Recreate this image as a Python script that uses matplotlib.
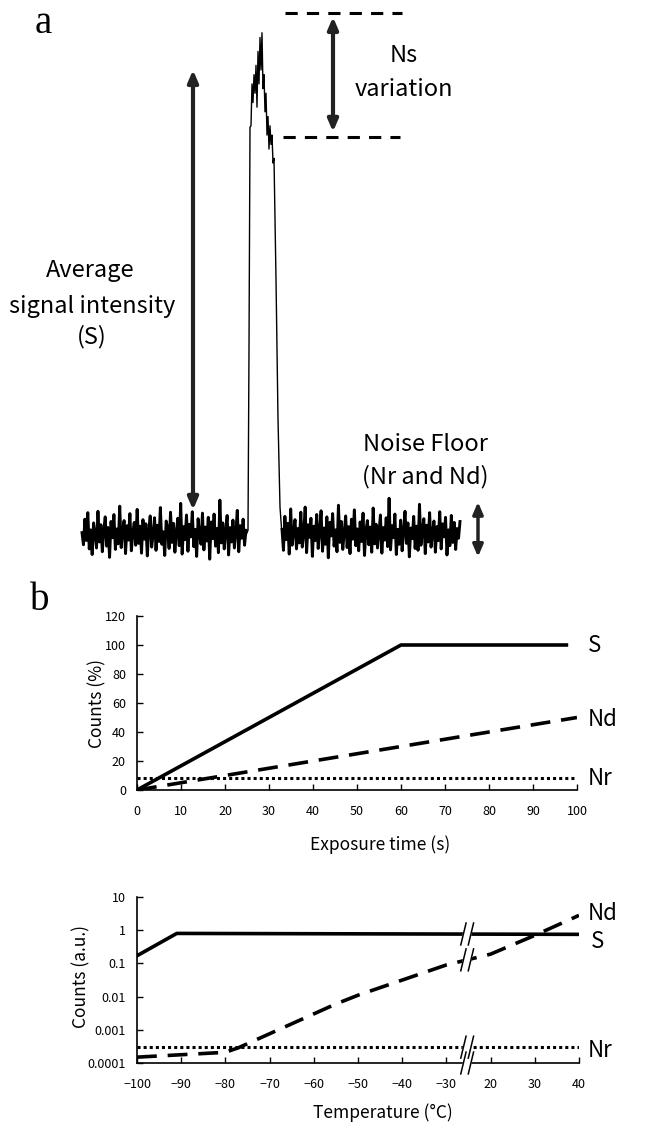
import matplotlib
matplotlib.use('Agg')
import matplotlib.pyplot as plt
import numpy as np

plt.rcParams['font.family'] = ['Noto Sans CJK JP', 'DejaVu Sans']

# ---- panel a: detector trace (intensity, baseline = 0, average signal = 100)
noise_left = [0.5, -2.1, 3.4, -1.2, 4.8, -3.0, 1.1, -4.2, 2.6, 0.3, -2.8, 5.1, -1.5, 2.2, -3.6, 0.9,
              3.9, -2.4, 1.6, -4.8, 2.9, -0.6, 4.4, -3.1, 1.3, -1.9, 6.2, -2.7, 0.8, 3.1, -4.0, 2.0,
              -1.1, 4.6, -3.4, 0.4, 2.7, -2.2, 5.5, -1.8, 1.9, -3.9, 3.3, -0.9, 2.4, -4.5, 1.0, 4.1,
              -2.6, 0.2, 3.7, -3.3, 2.1, -1.4, 5.9, -2.0, 0.7, -4.4, 3.0, 1.5, -2.9, 4.9, -1.6, 2.5,
              -3.7, 0.6, 3.6, -2.3, 6.8, -4.1, 1.8, -1.0, 4.3, -3.5, 2.3, -0.4, 5.0, -2.5, 1.2, -4.6,
              3.5, 0.1, -2.0, 4.7, -3.2, 1.7, -1.3, 3.8, -5.2, 2.8, -0.8, 4.5, -2.4, 1.4, -3.8, 7.5,
              -1.7, 2.6, -3.0, 0.9, 4.2, -4.3, 1.6, -1.5, 3.2, -2.8, 0.5, 5.3, -3.6, 2.0, -0.7, 3.4,
              -2.2, 1.0]
noise_right = [1.2, -3.3, 4.0, -1.0, 2.5, -4.1, 5.6, -2.2, 0.7, 3.3, -3.0, 1.4, -1.7, 4.9, -2.6, 0.3,
               6.0, -3.8, 2.2, -0.5, 3.6, -4.6, 1.9, -1.2, 4.4, -2.9, 0.8, 5.2, -3.5, 1.5, -2.0, 3.9,
               -4.9, 2.7, -0.2, 4.6, -2.4, 1.1, -3.6, 6.4, -1.6, 2.9, -3.1, 0.6, 4.1, -2.7, 1.8, -4.0,
               3.4, -0.9, 5.4, -2.3, 1.3, -3.4, 2.8, -1.4, 4.7, -4.4, 0.9, 3.1, -2.1, 1.7, -3.7, 5.8,
               -1.9, 2.3, -2.8, 0.4, 4.3, -3.9, 1.6, -1.1, 3.7, -2.5, 7.9, -3.2, 2.0, -0.6, 4.5, -4.2,
               1.2, -2.0, 3.2, -3.4, 0.7, 5.1, -1.8, 2.6, -4.7, 1.5, -0.8, 4.0, -2.9, 1.9, -3.3, 6.6,
               -2.2, 0.9, 3.5, -4.0, 2.1, -1.5, 4.8, -2.6, 0.5, 3.0, -3.7, 1.8, -1.2, 5.0, -3.0, 2.4,
               -0.4, 3.8, -4.3, 1.1, -2.3, 4.2, -1.6, 2.7, -3.1, 1.4, -0.7, 2.9]
peak_x = [246, 248, 249, 250, 251, 252, 253, 254, 255, 256, 257, 258, 259, 260, 261, 262, 263, 264,
          265, 266, 267, 268, 269, 270, 271, 272, 273, 274, 276, 278, 280, 282]
peak_y = [0, 1, 40, 87.7, 88, 97, 93, 99, 95, 101, 92, 104, 97, 107, 100, 108, 96, 99,
          91, 95, 86, 90, 83, 88, 84, 86, 80, 81, 55, 25, 6, 0]
signal_mean = 100
ns_top, ns_bottom = 112.3, 85.6

# ---- panel b (top): counts vs exposure time
exp_S, cnt_S = [0, 60, 98], [0, 100, 100]
exp_Nd, cnt_Nd = [0, 100], [0, 50]
exp_Nr, cnt_Nr = [0, 100], [8, 8]

# ---- panel b (bottom): counts vs temperature (log), axis broken between -30 and 20
temp_S, tcnt_S = [-100, -91, 40], [0.17, 0.8, 0.75]
temp_Nd = [-100, -80, -77, -55, -50, -30, 20, 30, 40]
tcnt_Nd = [1.5e-4, 2.1e-4, 2.9e-4, 6e-3, 1.1e-2, 9e-2, 0.19, 0.7, 2.8]
temp_Nr, tcnt_Nr = [-100, 40], [3e-4, 3e-4]
temp_ticks = [-100, -90, -80, -70, -60, -50, -40, -30, 20, 30, 40]
count_ticks = [1e-4, 1e-3, 1e-2, 1e-1, 1, 10]
count_labels = ['0.0001', '0.001', '0.01', '0.1', '1', '10']


def tpos(t):
    t = np.asarray(t, dtype=float)
    return np.where(t <= -30, t, t - 40)


fig = plt.figure(figsize=(6.5, 11.22), dpi=100)

# panel a
ax = fig.add_axes([0, 1 - 580 / 1122, 1, 580 / 1122])
ax.set_xlim(0, 650)
ax.set_ylim(-9.68, 115.05)
ax.axis('off')
ax.plot(np.linspace(82, 246, len(noise_left)), noise_left, color='black', lw=2.1)
ax.plot(np.linspace(282, 460, len(noise_right)), noise_right, color='black', lw=2.1)
ax.plot(peak_x, peak_y, color='black', lw=1.0)
ax.plot([285, 402], [ns_top, ns_top], color='black', lw=2.2, dashes=(4, 3))
ax.plot([283, 400], [ns_bottom, ns_bottom], color='black', lw=2.2, dashes=(4, 3))
arw = dict(arrowstyle='<|-|>,head_length=0.7,head_width=0.3', color='#222222', lw=3, shrinkA=0, shrinkB=0)
ax.annotate('', xy=(193, signal_mean), xytext=(193, 5.4), arrowprops=arw)
ax.annotate('', xy=(333, ns_top - 0.9), xytext=(333, ns_bottom + 1.1), arrowprops=arw)
ax.annotate('', xy=(478, 7.1), xytext=(478, -4.7),
            arrowprops=dict(arw, lw=2.5))
txt_fs = 17
ax.text(43, 110.1, 'a', family='Liberation Serif', fontsize=28, ha='center', va='center')
ax.text(404, 103.2, 'Ns', fontsize=txt_fs, ha='center', va='center')
ax.text(404, 95.9, 'variation', fontsize=txt_fs, ha='center', va='center')
ax.text(90, 56.8, 'Average', fontsize=txt_fs, ha='center', va='center')
ax.text(92, 49.2, 'signal intensity', fontsize=txt_fs, ha='center', va='center')
ax.text(92, 42.6, '(S)', fontsize=txt_fs, ha='center', va='center')
ax.text(425, 19.4, 'Noise Floor', fontsize=txt_fs, ha='center', va='center')
ax.text(425, 12.5, '(Nr and Nd)', fontsize=txt_fs, ha='center', va='center')

fig.text(40 / 650, 1 - 600 / 1122, 'b', family='Liberation Serif', fontsize=28, ha='center', va='center')

lab_fs = 16
tick_fs = 9
ax_fs = 12.5

# panel b top
ax1 = fig.add_axes([137 / 650, 1 - 790 / 1122, 440 / 650, 174 / 1122])
ax1.plot(exp_S, cnt_S, color='black', lw=2.6, solid_capstyle='butt')
ax1.plot(exp_Nd, cnt_Nd, color='black', lw=2.6, dashes=(5.5, 3))
ax1.plot(exp_Nr, cnt_Nr, color='black', lw=2.2, dashes=(1, 1))
ax1.set_xlim(0, 100)
ax1.set_ylim(0, 120)
ax1.set_xticks(range(0, 101, 10))
ax1.set_yticks(range(0, 121, 20))
ax1.set_xlabel('Exposure time (s)', fontsize=ax_fs)
ax1.set_ylabel('Counts (%)', fontsize=ax_fs)
ax1.xaxis.set_label_coords(0.552, -0.26)
ax1.yaxis.set_label_coords(-0.07, 0.5)
ax1.text(102.5, cnt_S[-1], 'S', fontsize=lab_fs, va='center', clip_on=False)
ax1.text(102.5, cnt_Nd[-1] - 1.7, 'Nd', fontsize=lab_fs, va='center', clip_on=False)
ax1.text(102.5, cnt_Nr[-1], 'Nr', fontsize=lab_fs, va='center', clip_on=False)

# panel b bottom
ax2 = fig.add_axes([137 / 650, 1 - 1063 / 1122, 442 / 650, 166 / 1122])
ax2.set_yscale('log')
ax2.plot(tpos(temp_S), tcnt_S, color='black', lw=2.6)
ax2.plot(tpos(temp_Nd), tcnt_Nd, color='black', lw=2.6, dashes=(5.5, 3))
ax2.plot(tpos(temp_Nr), tcnt_Nr, color='black', lw=2.2, dashes=(1, 1))
ax2.set_xlim(-100, 0)
ax2.set_ylim(1e-4, 10)
ax2.set_xticks(tpos(temp_ticks))
ax2.set_xticklabels(['\u2212%d' % -t if t < 0 else str(t) for t in temp_ticks])
ax2.set_yticks(count_ticks)
ax2.set_yticklabels(count_labels)
ax2.minorticks_off()
ax2.set_xlabel('Temperature (\u00b0C)', fontsize=ax_fs)
ax2.set_ylabel('Counts (a.u.)', fontsize=ax_fs)
ax2.xaxis.set_label_coords(0.557, -0.24)
ax2.yaxis.set_label_coords(-0.105, 0.52)
ax2.text(2, 3.2, 'Nd', fontsize=lab_fs, va='center', clip_on=False)
ax2.text(2.6, 0.45, 'S', fontsize=lab_fs, va='center', clip_on=False)
ax2.text(2, 2.4e-4, 'Nr', fontsize=lab_fs, va='center', clip_on=False)

# break marks
xb = -25.3
nd_at_break = 10 ** np.interp(xb, tpos(temp_Nd), np.log10(tcnt_Nd))
for yb in [1e-4, tcnt_Nr[0], nd_at_break, 0.77]:
    k = 10 ** 0.33
    ax2.fill([xb - 1.45, xb + 0.25, xb + 1.45, xb - 0.25], [yb / k, yb / k, yb * k, yb * k],
             color='white', zorder=3, clip_on=False)
    for dx in (-0.85, 0.85):
        ax2.plot([xb + dx - 0.6, xb + dx + 0.6], [yb / k, yb * k], color='black', lw=1.1,
                 zorder=4, clip_on=False)

for a in (ax1, ax2):
    for s in ('top', 'right'):
        a.spines[s].set_visible(False)
    for s in ('left', 'bottom'):
        a.spines[s].set_linewidth(1.2)
    a.tick_params(direction='in', length=4, width=1, labelsize=tick_fs)
    a.tick_params(axis='x', pad=11)
    a.tick_params(axis='y', pad=8)

fig.savefig('out.png', dpi=100)
